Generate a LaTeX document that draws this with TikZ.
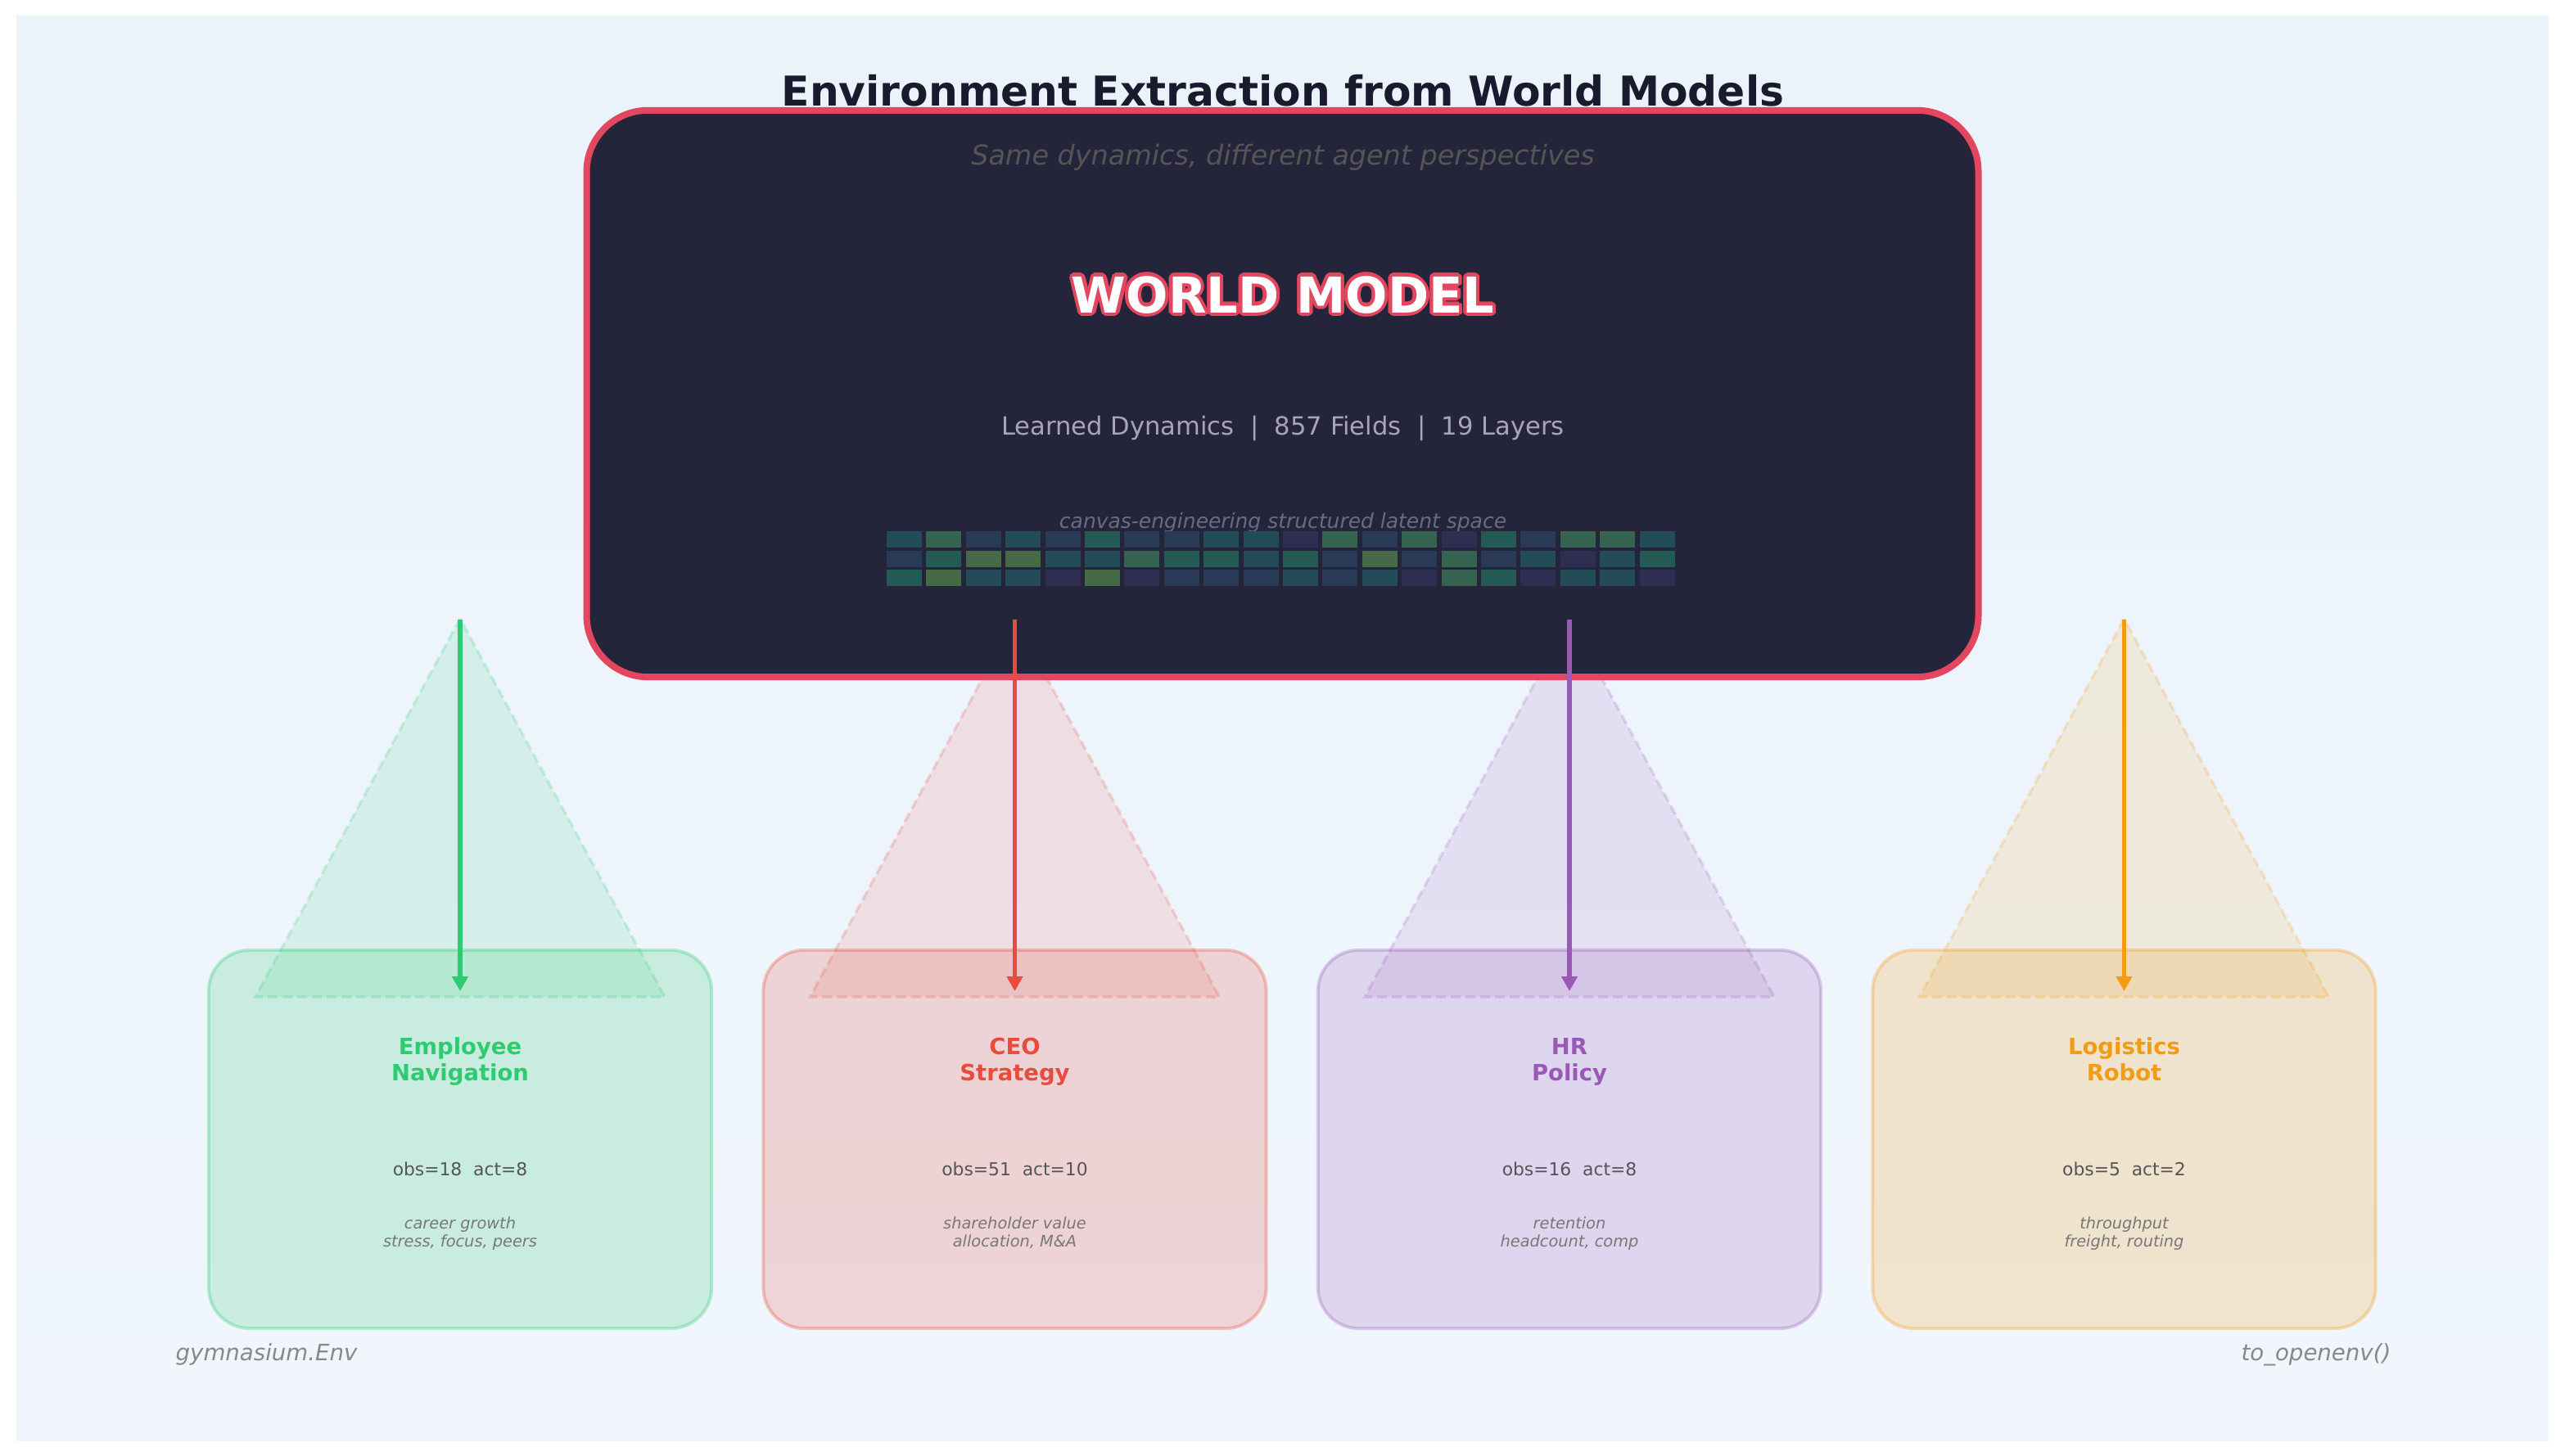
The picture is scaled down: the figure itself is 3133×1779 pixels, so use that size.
\documentclass[tikz,border=0pt]{standalone}
\usepackage{fontspec}
\setmainfont{DejaVu Sans}
\usetikzlibrary{arrows.meta}
\definecolor{bgtop}{HTML}{EAF2FA}
\definecolor{bgbot}{HTML}{F1F6FD}
\definecolor{titlec}{HTML}{1A1A2E}
\definecolor{wmfill}{HTML}{24253A}
\definecolor{wmred}{HTML}{E2475F}
\definecolor{subc}{HTML}{555555}
\definecolor{statc}{HTML}{A6A6B6}
\definecolor{canvc}{HTML}{6A6A80}
\definecolor{cellT}{HTML}{234B58}
\definecolor{cellG}{HTML}{36634F}
\definecolor{cellN}{HTML}{283A56}
\definecolor{cellP}{HTML}{2E2D52}
\definecolor{cellD}{HTML}{245A54}
\definecolor{cellO}{HTML}{456A45}
\definecolor{agGreen}{HTML}{2ECC71}
\definecolor{agRed}{HTML}{E74C3C}
\definecolor{agPurple}{HTML}{9B59B6}
\definecolor{agOrange}{HTML}{F39C12}
\definecolor{obsc}{HTML}{555555}
\definecolor{descc}{HTML}{777777}
\definecolor{footc}{HTML}{888888}
\newcommand\setfs[2]{\fontsize{#1}{#2}\selectfont}
\begin{document}
\begin{tikzpicture}[x=0.01cm,y=-0.01cm,
  agentbox/.style={draw=#1,draw opacity=0.3,fill=#1,fill opacity=0.2,line width=0.04cm,rounded corners=0.5cm,minimum width=6.14cm,minimum height=4.62cm,inner sep=0pt},
  viewcone/.style={fill=#1,fill opacity=0.13,draw=#1,draw opacity=0.2,line width=0.035cm,dash pattern=on 0.12cm off 0.06cm},
  flow/.style={draw=#1,line width=0.055cm,-{Triangle[length=0.18cm,width=0.19cm]}},
  wmbox/.style={draw=wmred,fill=wmfill,line width=0.08cm,rounded corners=0.75cm,minimum width=16.99cm,minimum height=6.92cm,inner sep=0pt},
  wmlabel/.style={anchor=base,inner sep=0pt,font=\setfs{17.2}{20}\bfseries},
  basetext/.style={anchor=base,inner sep=0pt}
]
\useasboundingbox (0,0) rectangle (3133,1779);
\shade[top color=bgtop,bottom color=bgbot] (20,20) rectangle (3113,1760);

\node[basetext,font=\setfs{14.3}{17}\bfseries,text=titlec] (title) at (1567,130) {Environment Extraction from World Models};

% view cones and agent boxes
\foreach \i/\col in {0/agGreen,1/agRed,2/agPurple,3/agOrange}{
  \pgfmathsetmacro\cx{562+677.5*\i}
  \filldraw[viewcone=\col] (\cx,756) -- ({\cx-250},1218) -- ({\cx+250},1218) -- cycle;
  \node[agentbox=\col] (box\i) at (\cx,1392) {};
}

% world model
\node[wmbox] (wm) at (1566.5,481) {};
\node[basetext,font=\setfs{9.5}{11}\itshape,text=subc] (sub) at (1567,202) {Same dynamics, different agent perspectives};
\foreach \a [count=\k] in {0,22.5,...,337.5}
  \node[wmlabel,text=wmred] (wmo\k) at ([shift={(\a:4.2)}]1567,382) {WORLD MODEL};
\node[wmlabel,text=white] (wmt) at (1567,382) {WORLD MODEL};
\node[basetext,font=\setfs{8.7}{10},text=statc] (stats) at (1567,531) {Learned Dynamics\ \ |\ \ 857 Fields\ \ |\ \ 19 Layers};
\node[basetext,font=\setfs{7.1}{8.5}\itshape,text=canvc] (canv) at (1567,645) {canvas-engineering structured latent space};

\foreach \r/\row in {0/{T,G,N,T,N,D,N,N,T,T,P,G,N,G,P,D,N,G,G,T},1/{N,D,O,O,T,T,G,D,D,T,D,N,O,N,G,N,T,P,T,D},2/{D,O,T,T,P,O,P,N,N,N,T,N,T,P,G,D,P,T,T,P}}{
  \foreach \c [count=\j from 0] in \row {
    \fill[fill=cell\c] ({1083+48.4*\j},{649+23.5*\r}) rectangle ++(43,20);
  }
}

% agent texts and arrows
\foreach \i/\col/\la/\lb/\ob/\da/\db in {
  0/agGreen/{Employee}/{Navigation}/{obs=18\ \ act=8}/{career growth}/{stress, focus, peers},
  1/agRed/{CEO}/{Strategy}/{obs=51\ \ act=10}/{shareholder value}/{allocation, M\&A},
  2/agPurple/{HR}/{Policy}/{obs=16\ \ act=8}/{retention}/{headcount, comp},
  3/agOrange/{Logistics}/{Robot}/{obs=5\ \ act=2}/{throughput}/{freight, routing}}{
  \pgfmathsetmacro\cx{562+677.5*\i}
  \node[basetext,font=\setfs{7.8}{9.4}\bfseries,text=\col] (ta\i) at (\cx,1288) {\la};
  \node[basetext,font=\setfs{7.8}{9.4}\bfseries,text=\col] (tb\i) at (\cx,1320) {\lb};
  \node[basetext,font=\setfs{6.2}{7.5},text=obsc] (ob\i) at (\cx,1436) {\ob};
  \node[basetext,font=\setfs{5.5}{6.6}\itshape,text=descc] (da\i) at (\cx,1501) {\da};
  \node[basetext,font=\setfs{5.5}{6.6}\itshape,text=descc] (db\i) at (\cx,1523) {\db};
  \coordinate (ap\i) at (\cx,757);
  \coordinate (tp\i) at (\cx,1211);
  \draw[flow=\col] (ap\i) -- (tp\i);
}

\node[anchor=base west,inner sep=0pt,font=\setfs{7.85}{10}\itshape,text=footc] (gym) at (214,1662) {gymnasium.Env};
\node[anchor=base east,inner sep=0pt,font=\setfs{7.85}{10}\itshape,text=footc] (toenv) at (2921,1662) {to\_openenv()};
\end{tikzpicture}
\end{document}
